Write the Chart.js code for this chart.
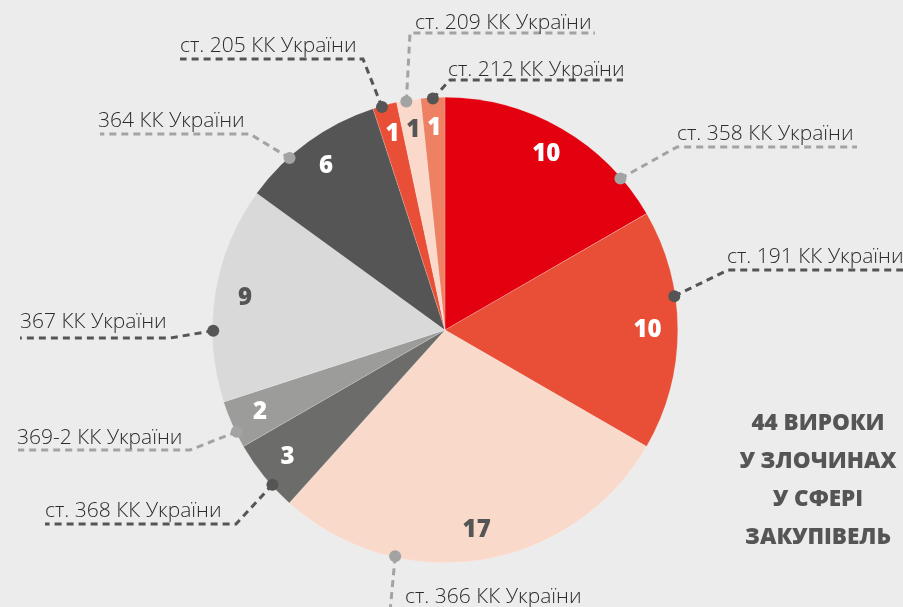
<!DOCTYPE html>
<html>
<head>
<meta charset="utf-8">
<script src="https://cdn.jsdelivr.net/npm/chart.js@4.4.0/dist/chart.umd.min.js"></script>
<style>
    html, body { margin: 0; padding: 0; background: #ececec; }
    #wrap { width: 903px; height: 607px; position: relative; }
</style>
</head>
<body>
<div id="wrap"><canvas id="chart" width="903" height="607"></canvas></div>
<script>
// Дані: статті КК України та кількість вироків
const articles = ['ст. 358 КК України', 'ст. 191 КК України', 'ст. 366 КК України',
    'ст. 368 КК України', '369-2 КК України', '367 КК України', '364 КК України',
    'ст. 205 КК України', 'ст. 209 КК України', 'ст. 212 КК України'];
const verdicts = [10, 10, 17, 3, 2, 9, 6, 1, 1, 1];
const titleLines = ['44 ВИРОКИ', 'У ЗЛОЧИНАХ', 'У СФЕРІ', 'ЗАКУПІВЕЛЬ'];

// Кольори секторів
const sliceColors = ['#e3000f', '#e84f36', '#f9d9ca', '#6c6c6a', '#9c9d9b',
    '#d9d9d9', '#555555', '#e84f36', '#fad9cb', '#ee8163'];
const numberColors = ['#fff', '#fff', '#555', '#fff', '#fff', '#555', '#fff', '#fff', '#555', '#fff'];

// Розміщення підписів (лінія-виноска): точка на краю сектора, злам, горизонтальна лінія
const callouts = [
    { frac: 0.82, elbow: [677, 147], end: 857, text: [677, 140], dark: false },
    { frac: 0.36, elbow: [728, 270], end: 903, text: [727, 263], dark: true },
    { frac: 0.71, elbow: [390, 612], end: 390, text: [405, 603], dark: false },
    { frac: 0.34, elbow: [236, 524], end: 45, text: [45, 517], dark: true },
    { frac: 0.33, elbow: [190, 450], end: 18, text: [17, 444], dark: false },
    { frac: 0.33, elbow: [170, 338], end: 20, text: [20, 328], dark: true },
    { frac: 0.33, elbow: [250, 134], end: 100, text: [98, 127], dark: false },
    { frac: 0.37, elbow: [363, 59], end: 180, text: [180, 52], dark: true },
    { frac: 0.40, elbow: [410, 33], end: 595, text: [415, 29], dark: false },
    { frac: 0.50, elbow: [450, 80], end: 623, text: [448, 76], dark: true }
];

const calloutPlugin = {
    id: 'callouts',
    afterDatasetsDraw(chart) {
        const ctx = chart.ctx;
        const arcs = chart.getDatasetMeta(0).data;
        ctx.save();

        arcs.forEach(function(arc, i) {
            const p = arc.getProps(['x', 'y', 'startAngle', 'endAngle', 'outerRadius'], true);
            const mid = (p.startAngle + p.endAngle) / 2;

            // число всередині сектора
            const rn = p.outerRadius * 0.87;
            ctx.fillStyle = numberColors[i];
            ctx.font = '800 24px "Open Sans", "DejaVu Sans", sans-serif';
            ctx.textAlign = 'center';
            ctx.textBaseline = 'middle';
            ctx.fillText(String(verdicts[i]), p.x + Math.cos(mid) * rn, p.y + Math.sin(mid) * rn);

            // виноска
            const c = callouts[i];
            const a = p.startAngle + (p.endAngle - p.startAngle) * c.frac;
            const dx = p.x + Math.cos(a) * (p.outerRadius - 1);
            const dy = p.y + Math.sin(a) * (p.outerRadius - 1);
            const col = c.dark ? '#555555' : '#a3a3a3';

            ctx.strokeStyle = col;
            ctx.lineWidth = 3;
            ctx.setLineDash([7, 5]);
            ctx.beginPath();
            ctx.moveTo(dx, dy);
            ctx.lineTo(c.elbow[0], c.elbow[1]);
            ctx.lineTo(c.end, c.elbow[1]);
            ctx.stroke();
            ctx.setLineDash([]);

            ctx.fillStyle = col;
            ctx.beginPath();
            ctx.arc(dx, dy, 6, 0, Math.PI * 2);
            ctx.fill();

            ctx.fillStyle = '#2b2b2b';
            ctx.font = '300 21px "Open Sans", Lato, sans-serif';
            ctx.textAlign = 'left';
            ctx.textBaseline = 'alphabetic';
            ctx.fillText(articles[i], c.text[0], c.text[1]);
        });

        // підсумковий напис праворуч
        ctx.fillStyle = '#555555';
        ctx.font = '800 22.5px "Open Sans", "DejaVu Sans", sans-serif';
        ctx.textAlign = 'center';
        ctx.textBaseline = 'middle';
        titleLines.forEach(function(line, k) {
            ctx.fillText(line, 818, 424 + k * 37.7);
        });

        ctx.restore();
    }
};

new Chart(document.getElementById('chart'), {
    type: 'pie',
    data: {
        labels: articles,
        datasets: [{
            data: verdicts,
            backgroundColor: sliceColors,
            borderColor: 'rgba(255, 255, 255, 0.35)',
            borderWidth: 0.5
        }]
    },
    options: {
        responsive: false,
        animation: false,
        layout: {
            padding: { top: 97, bottom: 44, left: 212, right: 225 }
        },
        plugins: {
            legend: { display: false },
            tooltip: { enabled: false }
        }
    },
    plugins: [calloutPlugin]
});
</script>
</body>
</html>
